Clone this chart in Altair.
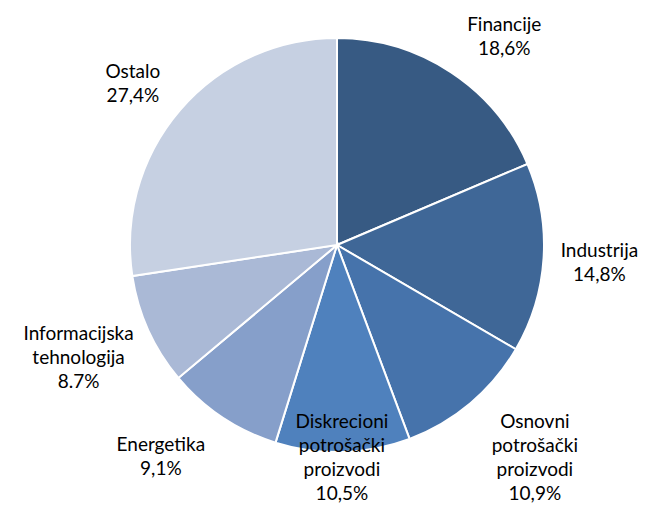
import altair as alt
import pandas as pd

categories = ["Financije", "Industrija", "Osnovni potrošački proizvodi",
              "Diskrecioni potrošački proizvodi", "Energetika",
              "Informacijska tehnologija", "Ostalo"]
label_lines = [["Financije", "18,6%"], ["Industrija", "14,8%"],
               ["Osnovni", "potrošački", "proizvodi", "10,9%"],
               ["Diskrecioni", "potrošački", "proizvodi", "10,5%"],
               ["Energetika", "9,1%"],
               ["Informacijska", "tehnologija", "8.7%"],
               ["Ostalo", "27,4%"]]
values = [18.6, 14.8, 10.9, 10.5, 9.1, 8.7, 27.4]
colors = ["#375A83", "#3F6797", "#4673AB", "#4F81BD", "#869FCA", "#AAB9D6", "#C6D0E2"]
# label placement (style): distance from centre and small angular nudge in degrees
label_radius = [267, 263, 291, 213, 276, 282, 260]
label_nudge = [5.3, 0.3, -2.7, 0.3, 6.0, 0.7, -2.4]

df = pd.DataFrame({
    "cat": categories,
    "value": values,
    "idx": list(range(len(categories))),
    "label": label_lines,
    "lr": label_radius,
    "nudge": label_nudge,
})

CX, CY, R = 329, 237, 207
LH = 24

pie = alt.Chart(df).mark_arc(stroke="white", strokeWidth=2, radius=R).encode(
    theta=alt.Theta("value:Q", stack=True),
    order=alt.Order("idx:Q"),
    color=alt.Color("cat:N", scale=alt.Scale(domain=categories, range=colors), legend=None),
    x=alt.value(CX), y=alt.value(CY),
)

text = alt.Chart(df).transform_joinaggregate(
    total="sum(value)"
).transform_window(
    cum="sum(value)", sort=[alt.SortField("idx")], frame=[None, 0]
).transform_calculate(
    mid="(datum.cum - datum.value / 2) / datum.total * 2 * PI + datum.nudge * PI / 180",
    yc=f"{CY} - (length(datum.label) - 1) * {LH} / 2",
).mark_text(font="Lato", fontSize=19, lineHeight=LH, color="#000000",
            align="center", baseline="middle").encode(
    text="label",
    theta=alt.Theta("mid:Q", scale=None),
    radius=alt.Radius("lr:Q", scale=None),
    x=alt.value(CX),
    y=alt.Y("yc:Q", scale=None),
)

chart = (pie + text).properties(
    width=631, height=496,
    autosize=alt.AutoSizeParams(type="none"),
    padding=0,
).configure_view(stroke=None)

chart.save("out.html", embed_options={"renderer": "svg", "actions": False})
